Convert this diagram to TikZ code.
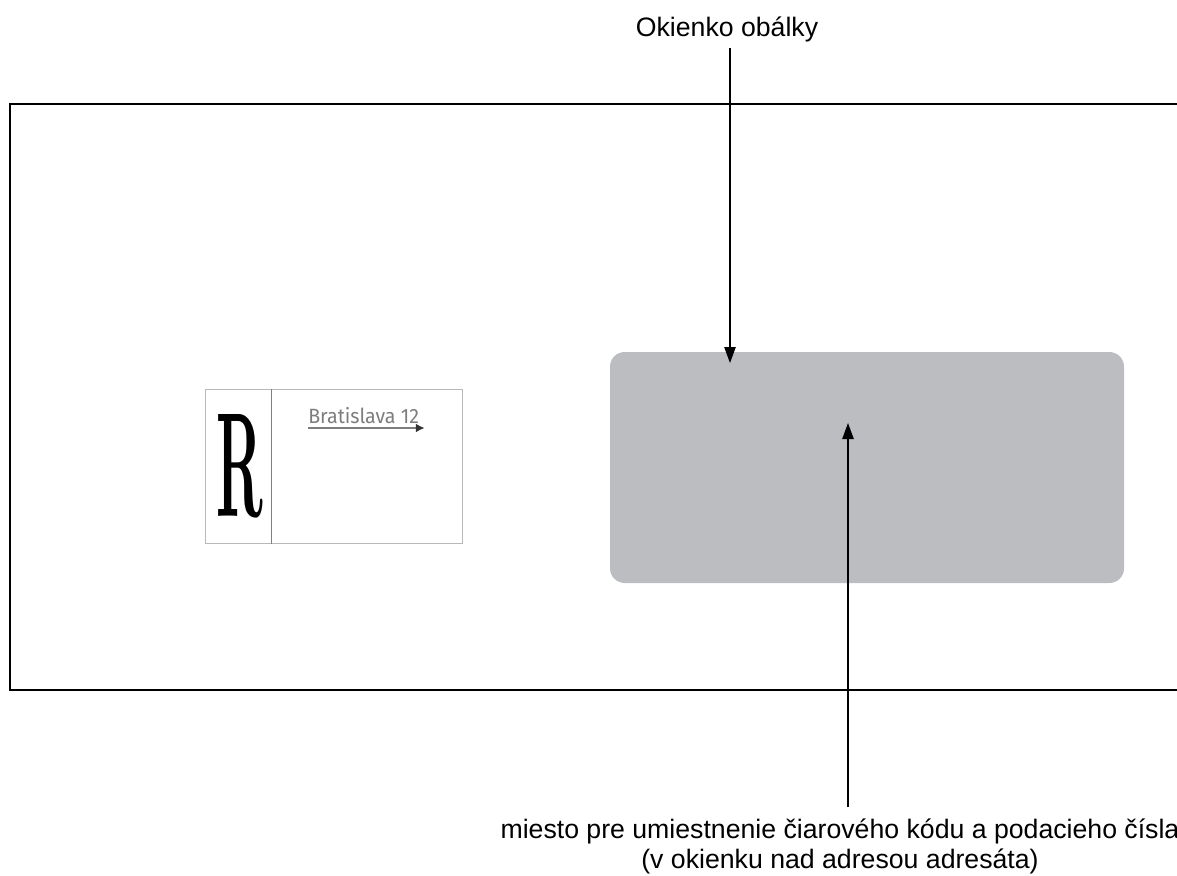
\documentclass[tikz,border=0pt]{standalone}
\usepackage{fontspec}
\newfontfamily\arialfont{Liberation Sans}
\newfontfamily\stampfont{Fira Sans}
\usepackage{tikz}
\usetikzlibrary{positioning, arrows.meta, calc}
\definecolor{windowgray}{RGB}{188,189,193}
\definecolor{stampgray}{RGB}{125,125,125}
\tikzset{
  envelope/.style={line width=1.9pt},
  window/.style={fill=windowgray, draw=none, rounded corners=11pt},
  stampbox/.style={draw=black!28, line width=0.6pt},
  divider/.style={draw=black!50, line width=0.6pt},
  pointer/.style={line width=1.1pt, -{Triangle[width=8.5pt,length=12pt]}},
  postarrow/.style={draw=stampgray, line width=1.2pt, -{Latex[length=6.5pt,width=6.5pt,color=black!80]}},
  callout/.style={font=\arialfont\fontsize{20}{22.5}\selectfont, inner sep=0pt}
}

\begin{document}
\begin{tikzpicture}[x=0.75pt, y=-0.75pt]
    \useasboundingbox (0,0) rectangle (1177,875);

    % envelope outline (open to the right)
    \draw[envelope] (1177,104) -| (10,690) -- (1177,690);

    % address window
    \node[window, minimum width=385.5pt, minimum height=173.25pt] (window) at (867,467.5) {};

    % registered label
    \node[stampbox, anchor=north west, minimum width=192.75pt, minimum height=115.5pt] (stamp) at (205,389) {};
    \draw[divider] (271,0 |- stamp.north) -- (271,0 |- stamp.south);
    \node[inner sep=0pt] (regmark) at (240,466) {\resizebox{35pt}{76.5pt}{\bfseries R}};
    \node[anchor=base west, inner sep=0pt, text=stampgray, font=\stampfont\fontsize{15.5}{17}\selectfont] (postoffice) at (308,423) {\scalebox{0.95}[1]{Bratislava 12}};
    \coordinate (ulstart) at ([yshift=-3.75pt]postoffice.base west);
    \coordinate (ulend) at ([xshift=4pt,yshift=-3.75pt]postoffice.base east);
    \draw[postarrow] (ulstart) -- (ulend);

    % callouts
    \node[callout, anchor=base] (windowlabel) at (727,36) {Okienko obálky};
    \coordinate (windowspot) at (730,363);
    \draw[pointer, shorten <=5pt] (windowlabel.south -| windowspot) -- (windowspot);

    \node[callout, align=center, anchor=north] (codelabel) at (840,819) {miesto pre umiestnenie čiarového kódu a podacieho čísla\\(v okienku nad adresou adresáta)};
    \coordinate (codespot) at (848,423);
    \draw[pointer, shorten <=9pt] (codelabel.north -| codespot) -- (codespot);
\end{tikzpicture}
\end{document}
